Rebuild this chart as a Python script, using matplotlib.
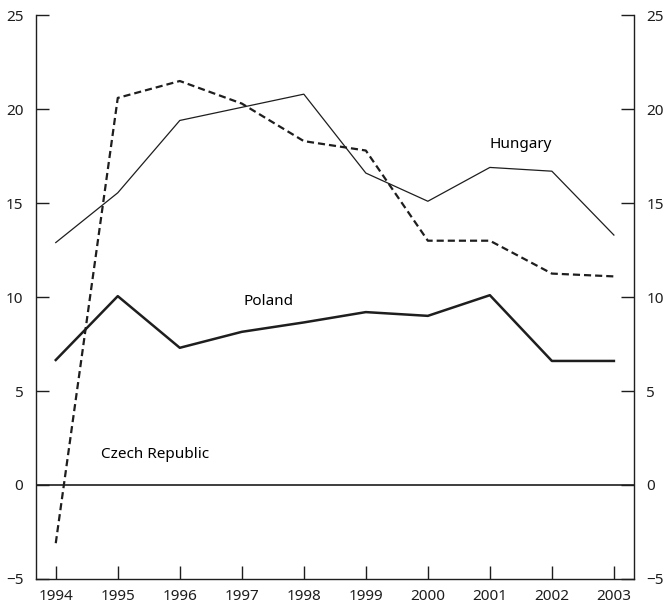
#!/usr/bin/env python3
# -*- coding: utf-8 -*-

import matplotlib
matplotlib.use("Agg")
import matplotlib.pyplot as plt

years = [1994, 1995, 1996, 1997, 1998, 1999, 2000, 2001, 2002, 2003]
hungary = [12.9, 15.55, 19.4, 20.1, 20.8, 16.6, 15.1, 16.9, 16.7, 13.3]
czech = [-3.1, 20.6, 21.5, 20.3, 18.3, 17.8, 13.0, 13.0, 11.25, 11.1]
poland = [6.65, 10.05, 7.3, 8.15, 8.65, 9.2, 9.0, 10.1, 6.6, 6.6]

y_ticks = [-5, 0, 5, 10, 15, 20, 25]

plt.rcParams["font.family"] = ["Noto Sans", "DejaVu Sans"]
plt.rcParams["font.size"] = 11

COLOR_LINE = "#1e1e1e"

fig = plt.figure(figsize=(6.65, 6.1), dpi=100)
ax = fig.add_axes([0.054, 0.051, 0.899, 0.924])

ax.axhline(0, color=COLOR_LINE, linewidth=1.2, zorder=1)
ax.plot(years, hungary, "-", color=COLOR_LINE, linewidth=0.9)
ax.plot(years, czech, color=COLOR_LINE, linewidth=1.6,
        linestyle=(0, (3.2, 1.8)))
ax.plot(years, poland, "-", color=COLOR_LINE, linewidth=1.8)

ax.text(2001.5, 18.1, "Hungary", ha="center", va="center")
ax.text(1997.43, 9.75, "Poland", ha="center", va="center")
ax.text(1995.6, 1.6, "Czech Republic", ha="center", va="center")

ax.set_xlim(1993.68, 2003.32)
ax.set_ylim(-5, 25)
ax.set_xticks(years)
ax.set_yticks(y_ticks)

ax.spines["top"].set_visible(False)
for side in ["left", "right", "bottom"]:
    ax.spines[side].set_linewidth(1.0)
    ax.spines[side].set_color(COLOR_LINE)

ax.tick_params(axis="y", direction="in", length=9.5, width=1.0,
               left=True, right=True, labelleft=True, labelright=True,
               pad=9, colors=COLOR_LINE)
ax.tick_params(axis="x", direction="in", length=9.5, width=1.0,
               pad=7, colors=COLOR_LINE)

fig.savefig("out.png", dpi=100)
